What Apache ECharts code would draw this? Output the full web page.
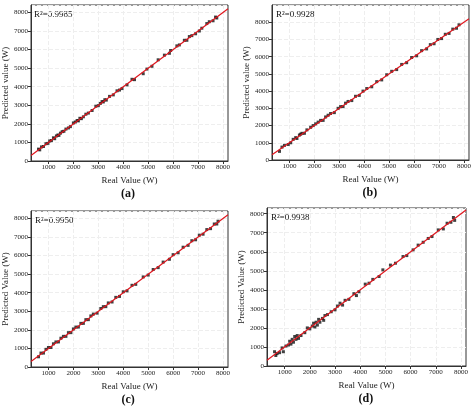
<!DOCTYPE html>
<html>
<head>
<meta charset="utf-8">
<script src="https://cdn.jsdelivr.net/npm/echarts@6/dist/echarts.min.js"></script>
<style>html,body{margin:0;background:#fff}#chart{width:474px;height:406px}</style>
</head>
<body>
<div id="chart"></div>
<script>
var panelNames = ['(a)', '(b)', '(c)', '(d)'];
var r2Labels = ['R\u00b2=0.9985', 'R\u00b2=0.9928', 'R\u00b2=0.9950', 'R\u00b2=0.9938'];
var yTitles = ['Predicted value (W)', 'Predicted value (W)', 'Predicted Value (W)', 'Predicted Value (W)'];
var yMax = [8400, 9000, 8400, 8300];
var xTicks = [1000, 2000, 3000, 4000, 5000, 6000, 7000, 8000];

var realA = [600,650,720,800,900,980,1050,1120,1200,1250,1320,1380,1420,1480,1550,1620,1700,1800,1880,2000,2080,2150,2200,2260,2320,2400,2500,2600,2750,2900,3000,3080,3150,3200,3260,3320,3450,3600,3750,3850,3950,4150,4350,4450,4800,4950,5150,5400,5650,5850,5900,6150,6250,6450,6550,6650,6750,6900,7050,7150,7350,7450,7600,7700,7750];
var predA = [640,600,760,780,930,950,1080,1100,1250,1200,1350,1400,1380,1500,1580,1600,1720,1780,1850,2050,2100,2180,2160,2300,2280,2380,2520,2580,2720,2950,2980,3100,3200,3180,3300,3280,3480,3560,3780,3820,3900,4100,4400,4380,4700,4950,5100,5450,5700,5800,5950,6200,6250,6500,6500,6700,6750,6850,7000,7150,7400,7500,7550,7750,7700];
var realB = [600,700,800,950,1050,1150,1250,1300,1400,1450,1500,1600,1700,1850,1950,2050,2150,2250,2350,2450,2550,2650,2800,2950,3050,3150,3250,3350,3500,3650,3800,3950,4100,4300,4500,4700,4900,5100,5300,5500,5700,5900,6100,6300,6500,6650,6800,6950,7100,7250,7400,7550,7700,7800];
var predB = [500,750,850,900,1000,1200,1300,1250,1450,1500,1550,1550,1750,1900,2000,2100,2200,2300,2300,2500,2600,2700,2750,3000,3100,3100,3300,3400,3450,3700,3750,4000,4150,4250,4550,4650,4950,5150,5250,5550,5650,5950,6050,6350,6450,6700,6750,7000,7050,7300,7350,7600,7650,7850];
var realC = [600,700,800,900,1000,1100,1200,1300,1400,1500,1600,1700,1800,1900,2000,2100,2200,2300,2400,2500,2600,2700,2800,2950,3100,3200,3300,3400,3550,3700,3850,4000,4150,4350,4500,4800,5000,5200,5400,5600,5850,6000,6200,6400,6600,6750,6900,7050,7200,7350,7500,7650,7750,7800];
var predC = [550,750,750,950,1050,1050,1250,1350,1350,1550,1650,1650,1850,1850,2050,2150,2150,2350,2350,2550,2550,2750,2850,2900,3150,3250,3250,3450,3500,3750,3800,4050,4100,4400,4450,4850,4950,5250,5350,5650,5800,6050,6150,6450,6550,6800,6850,7100,7150,7400,7450,7700,7700,7850];
var realD = [600,650,700,800,900,950,1050,1150,1200,1250,1300,1350,1400,1450,1500,1550,1650,1800,1900,2000,2100,2150,2200,2250,2300,2350,2400,2500,2550,2600,2700,2850,3000,3100,3200,3300,3400,3550,3750,3850,3950,4200,4350,4500,4750,4900,5200,5400,5700,5850,6100,6300,6500,6700,6850,7100,7300,7450,7600,7700,7750];
var predD = [750,550,650,700,950,750,1050,1100,1300,1150,1400,1250,1550,1400,1600,1450,1600,1750,2000,1950,2100,2250,2050,2300,2150,2450,2300,2500,2400,2650,2700,2850,2950,3150,3300,3200,3450,3500,3800,3700,3900,4300,4350,4550,4700,5050,5300,5400,5750,5800,6100,6350,6500,6700,6800,7150,7200,7500,7550,7800,7650];
var fitLine = [[300, 300], [8200, 8200]];

var reals = [realA, realB, realC, realD];
var preds = [predA, predB, predC, predD];
var grids = [
	{ left: 30, top: 5, width: 198, height: 156 },
	{ left: 272, top: 5, width: 197, height: 155 },
	{ left: 31, top: 211, width: 197, height: 156 },
	{ left: 267, top: 208, width: 199, height: 158 }
];
var font = 'Liberation Serif';

function pairs(xs, ys) {
	var out = [];
	for (var i = 0; i < xs.length; i++) out.push([xs[i], ys[i]]);
	return out;
}
function plain(v) { return String(v); }

var option = { textStyle: { fontFamily: font }, grid: [], xAxis: [], yAxis: [], series: [], graphic: [] };
grids.forEach(function (g, i) {
	option.grid.push({ left: g.left, top: g.top, width: g.width, height: g.height, show: true, borderColor: '#333', borderWidth: 1 });
	option.xAxis.push({
		gridIndex: i, type: 'value', min: 300, max: 8200,
		name: 'Real Value (W)', nameLocation: 'middle', nameGap: 15,
		nameTextStyle: { fontFamily: font, fontSize: 9, color: '#222' },
		axisLine: { lineStyle: { color: '#333' } }, axisTick: { length: 3, customValues: xTicks },
		axisLabel: { fontFamily: font, fontSize: 7, color: '#222', margin: 3, customValues: xTicks, formatter: plain },
		splitLine: { show: true, customValues: xTicks, lineStyle: { color: '#eeeeee', type: 'dashed' } }
	});
	option.yAxis.push({
		gridIndex: i, type: 'value', min: 0, max: yMax[i], interval: 1000,
		name: yTitles[i], nameLocation: 'middle', nameGap: 21,
		nameTextStyle: { fontFamily: font, fontSize: 9, color: '#222' },
		axisLine: { lineStyle: { color: '#333' } }, axisTick: { length: 3 },
		axisLabel: { fontFamily: font, fontSize: 7, color: '#222', margin: 3, showMaxLabel: false, formatter: plain },
		splitLine: { show: true, lineStyle: { color: '#eeeeee', type: 'dashed' } }
	});
	option.series.push({
		type: 'scatter', xAxisIndex: i, yAxisIndex: i, symbol: 'rect', symbolSize: 3,
		itemStyle: { color: '#111' }, data: pairs(reals[i], preds[i]), z: 2
	});
	option.series.push({
		type: 'line', xAxisIndex: i, yAxisIndex: i, symbol: 'none', data: fitLine,
		lineStyle: { color: '#e0161e', width: 1.2 }, z: 3
	});
	option.graphic.push({ type: 'text', left: g.left + 4, top: g.top + 5,
		style: { text: r2Labels[i], font: '9px ' + font, fill: '#111' } });
	option.graphic.push({ type: 'text', left: g.left + g.width / 2 - 8, top: g.top + g.height + 27,
		style: { text: panelNames[i], font: 'bold 12px ' + font, fill: '#111' } });
});

var chart = echarts.init(document.getElementById('chart'));
chart.setOption(option);
</script>
</body>
</html>
